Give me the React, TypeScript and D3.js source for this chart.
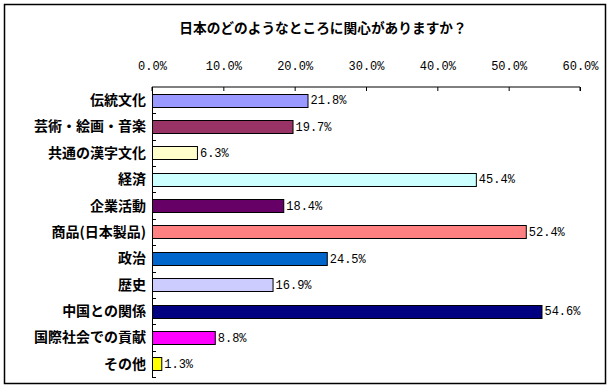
import { useEffect, useRef } from 'react'
import * as d3 from 'd3'

const title = '日本のどのようなところに関心がありますか？'
const categories = ['伝統文化', '芸術・絵画・音楽', '共通の漢字文化', '経済', '企業活動', '商品(日本製品)', '政治', '歴史', '中国との関係', '国際社会での貢献', 'その他']
const values = [21.8, 19.7, 6.3, 45.4, 18.4, 52.4, 24.5, 16.9, 54.6, 8.8, 1.3]
const colors = ['#9999FF', '#993366', '#FFFFCC', '#CCFFFF', '#660066', '#FF8080', '#0066CC', '#CCCCFF', '#000080', '#FF00FF', '#FFFF00']
const xTicks = [0, 10, 20, 30, 40, 50, 60]

const W = 611
const H = 390

export default function App() {
  const svgRef = useRef<SVGSVGElement>(null)

  useEffect(() => {
    if (!svgRef.current) return
    const svg = d3.select(svgRef.current)
    svg.selectAll('*').remove()

    const left = 152, right = 580, top = 87, bottom = 377
    const gothic = '"Noto Sans CJK JP", sans-serif'
    const mono = '"Liberation Mono", monospace'

    svg.append('rect')
      .attr('x', 4.5).attr('y', 4.5)
      .attr('width', 601).attr('height', 379)
      .attr('fill', '#fff').attr('stroke', '#000').attr('stroke-width', 1.5)

    svg.append('text')
      .attr('x', 323).attr('y', 33)
      .attr('text-anchor', 'middle')
      .attr('font-family', gothic).attr('font-weight', 'bold').attr('font-size', 13.7)
      .text(title)

    const x = d3.scaleLinear().domain([0, 60]).range([left, right])
    const y = d3.scaleBand().domain(categories).range([top, bottom]).paddingInner(0.5).paddingOuter(0.25)
    const band = d3.scaleBand().domain(categories).range([top, bottom])

    // top axis, ticks pointing down into the plot
    const xAxis = svg.append('g')
      .attr('transform', `translate(0,${top})`)
      .call(d3.axisTop(x).tickValues(xTicks).tickSize(-4).tickPadding(17).tickFormat(d => `${(+d).toFixed(1)}%`))
    xAxis.select('.domain').attr('stroke', '#000').attr('d', `M${left},4V0H${right}V4`)
    xAxis.selectAll('.tick line').attr('stroke', '#000')
    xAxis.selectAll('.tick text')
      .attr('font-family', mono).attr('font-size', 12).attr('fill', '#000')

    // left axis with ticks at band boundaries
    svg.append('line')
      .attr('x1', left + 0.5).attr('x2', left + 0.5)
      .attr('y1', top).attr('y2', bottom)
      .attr('stroke', '#000')
    svg.selectAll('.ytick')
      .data(categories)
      .enter()
      .append('line')
      .attr('x1', left).attr('x2', left + 4)
      .attr('y1', d => Math.round(band(d)! + band.bandwidth()) + 0.5)
      .attr('y2', d => Math.round(band(d)! + band.bandwidth()) + 0.5)
      .attr('stroke', '#000')

    svg.selectAll('.bar')
      .data(categories)
      .enter()
      .append('rect')
      .attr('x', left + 0.5)
      .attr('y', d => Math.round(y(d)!) + 0.5)
      .attr('width', (_, i) => x(values[i]) - left)
      .attr('height', Math.round(y.bandwidth()))
      .attr('fill', (_, i) => colors[i])
      .attr('stroke', '#000')

    svg.selectAll('.val')
      .data(categories)
      .enter()
      .append('text')
      .attr('x', (_, i) => x(values[i]) + 3)
      .attr('y', d => y(d)! + y.bandwidth() / 2)
      .attr('dy', '0.35em')
      .attr('font-family', mono).attr('font-size', 12)
      .text((_, i) => `${values[i].toFixed(1)}%`)

    svg.selectAll('.cat')
      .data(categories)
      .enter()
      .append('text')
      .attr('x', 146)
      .attr('y', d => y(d)! + y.bandwidth() / 2)
      .attr('dy', '0.35em')
      .attr('text-anchor', 'end')
      .attr('font-family', gothic).attr('font-weight', 'bold').attr('font-size', 14)
      .text(d => d)
  }, [])

  return (
    <svg
      ref={svgRef}
      width={W}
      height={H}
      style={{ position: 'absolute', left: 0, top: 0 }}
    />
  )
}
